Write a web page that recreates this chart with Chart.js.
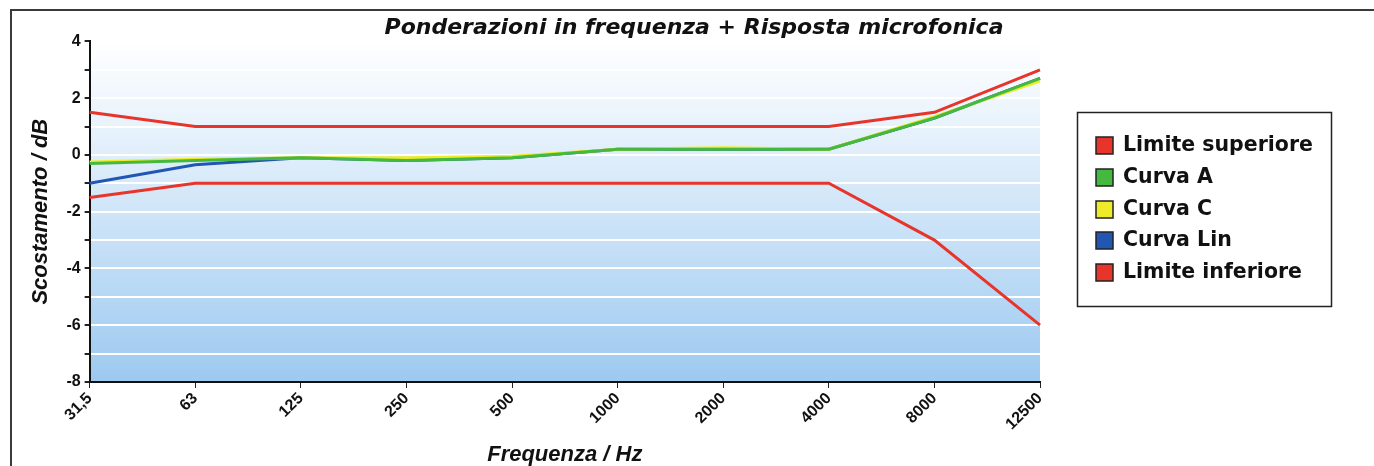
<!DOCTYPE html>
<html>
<head>
<meta charset="utf-8">
<script src="https://cdn.jsdelivr.net/npm/chart.js@4/dist/chart.umd.min.js"></script>
<style>
    html, body { margin: 0; padding: 0; background: #fff; }
    #wrap { position: relative; width: 1374px; height: 466px; overflow: hidden; }
    #frame { position: absolute; left: 10px; top: 9px; width: 2000px; height: 1000px;
             border-left: 2px solid #3a3a3a; border-top: 2px solid #3a3a3a; }
    #chart { position: absolute; left: 0; top: 0; }
</style>
</head>
<body>
<div id="wrap">
    <div id="frame"></div>
    <canvas id="chart" width="1374" height="466"></canvas>
</div>
<script>
// Data
const frequencies = ['31,5', '63', '125', '250', '500', '1000', '2000', '4000', '8000', '12500'];
const limiteSuperiore = [1.5, 1.0, 1.0, 1.0, 1.0, 1.0, 1.0, 1.0, 1.5, 3.0];
const curvaA = [-0.3, -0.2, -0.1, -0.2, -0.1, 0.2, 0.2, 0.2, 1.3, 2.7];
const curvaC = [-0.25, -0.15, -0.1, -0.1, -0.05, 0.2, 0.25, 0.2, 1.35, 2.6];
const curvaLin = [-1.0, -0.35, -0.1, -0.2, -0.1, 0.2, 0.2, 0.2, 1.3, 2.7];
const limiteInferiore = [-1.5, -1.0, -1.0, -1.0, -1.0, -1.0, -1.0, -1.0, -3.0, -6.0];
const yMin = -8;
const yMax = 4;

const FONT = "'Liberation Sans', Arial, sans-serif";
const WIDE = "'DejaVu Sans', Verdana, sans-serif";

// Gradient behind the plot area
const plotBackground = {
    id: 'plotBackground',
    beforeDraw(chart) {
        const { ctx, chartArea: a } = chart;
        const g = ctx.createLinearGradient(0, a.top, 0, a.bottom);
        g.addColorStop(0, '#ffffff');
        g.addColorStop(0.3, '#e3f0fb');
        g.addColorStop(1, '#9dc9f0');
        ctx.save();
        ctx.fillStyle = g;
        ctx.fillRect(a.left, a.top, a.right - a.left, a.bottom - a.top);
        ctx.restore();
    }
};

// Boxed legend to the right of the plot
const boxedLegend = {
    id: 'boxedLegend',
    afterDraw(chart) {
        const { ctx, chartArea: a } = chart;
        const x0 = Math.round(a.right + 37), y0 = Math.round(a.top + 71);
        const w = 254, h = 194;
        ctx.save();
        ctx.fillStyle = '#ffffff';
        ctx.fillRect(x0, y0, w, h);
        ctx.strokeStyle = '#222';
        ctx.lineWidth = 1.5;
        ctx.strokeRect(x0 + 0.5, y0 + 0.5, w, h);
        ctx.font = 'bold 20.5px ' + WIDE;
        ctx.textBaseline = 'middle';
        chart.data.datasets.forEach((ds, i) => {
            const cy = Math.round(y0 + 33 + i * 31.75);
            ctx.fillStyle = ds.borderColor;
            ctx.fillRect(x0 + 19, cy - 8, 17, 17);
            ctx.lineWidth = 1.5;
            ctx.strokeRect(x0 + 19, cy - 8, 17, 17);
            ctx.fillStyle = '#111';
            ctx.fillText(ds.label, x0 + 46, cy + 1);
        });
        ctx.restore();
    }
};

function line(label, data, color) {
    return {
        label: label,
        data: data,
        borderColor: color,
        backgroundColor: color,
        borderWidth: 3,
        pointRadius: 0,
        tension: 0,
        fill: false
    };
}

new Chart(document.getElementById('chart'), {
    type: 'line',
    data: {
        labels: frequencies,
        datasets: [
            line('Limite superiore', limiteSuperiore, '#e8352b'),
            line('Curva A', curvaA, '#45b93f'),
            line('Curva C', curvaC, '#eeec2a'),
            line('Curva Lin', curvaLin, '#2157b3'),
            line('Limite inferiore', limiteInferiore, '#e8352b')
        ]
    },
    options: {
        responsive: false,
        animation: false,
        layout: { padding: { left: 14, right: 0, top: 0, bottom: 0 } },
        plugins: {
            title: {
                display: true,
                text: 'Ponderazioni in frequenza + Risposta microfonica',
                color: '#111',
                font: { family: WIDE, size: 22, weight: 'bold', style: 'italic', lineHeight: 1.2 },
                padding: { top: 15, bottom: 0 }
            },
            legend: { display: false },
            tooltip: { enabled: false }
        },
        scales: {
            x: {
                offset: false,
                border: { color: '#111', width: 2 },
                grid: { drawOnChartArea: false, drawTicks: true, tickLength: 6, tickColor: '#222' },
                ticks: {
                    color: '#111',
                    minRotation: 45,
                    maxRotation: 45,
                    font: { family: FONT, size: 16, weight: 'bold' },
                    padding: 1
                },
                title: {
                    display: true,
                    text: 'Frequenza / Hz',
                    color: '#111',
                    font: { family: FONT, size: 22, weight: 'bold', style: 'italic', lineHeight: 1 },
                    padding: { top: 9, bottom: 0 }
                }
            },
            y: {
                min: yMin,
                max: yMax,
                border: { color: '#111', width: 2 },
                grid: { color: '#ffffff', lineWidth: 2, tickLength: 5, tickColor: '#222' },
                ticks: {
                    stepSize: 1,
                    color: '#111',
                    font: { family: FONT, size: 16, weight: 'bold' },
                    padding: 4,
                    callback: v => (v % 2 === 0 ? v : '')
                },
                title: {
                    display: true,
                    text: 'Scostamento / dB',
                    color: '#111',
                    font: { family: FONT, size: 22, weight: 'bold', style: 'italic' },
                    padding: { top: 14, bottom: 8 }
                }
            },
            // empty right-hand axis that keeps room for the legend box
            legendSpace: {
                position: 'right',
                display: true,
                grid: { display: false },
                border: { display: false },
                ticks: { display: false },
                afterFit(scale) {
                    scale.width = 334;
                }
            }
        }
    },
    plugins: [plotBackground, boxedLegend]
});
</script>
</body>
</html>
